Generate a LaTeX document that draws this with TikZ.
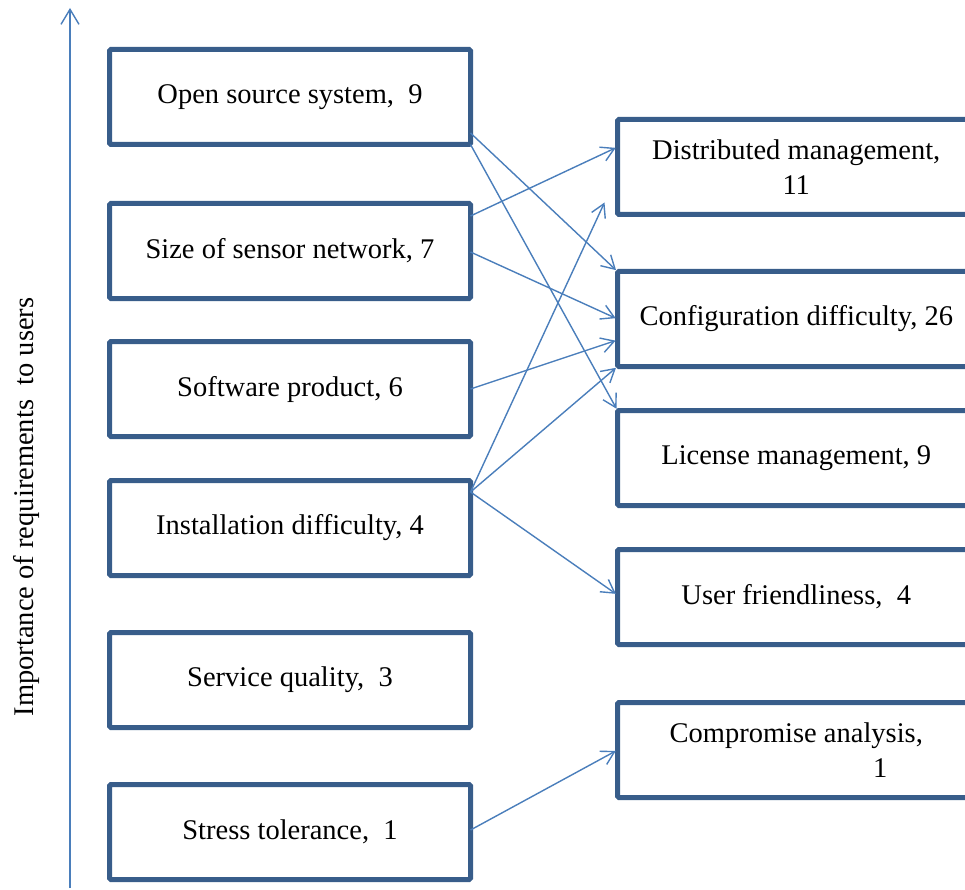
\documentclass[tikz,border=0pt]{standalone}
\usepackage{fontspec}
\setmainfont{Liberation Serif}
\usetikzlibrary{arrows.meta}
\definecolor{boxblue}{HTML}{385D8A}
\definecolor{arrowblue}{HTML}{4A7EBB}
\begin{document}
\begin{tikzpicture}[x=1pt,y=-1pt,
  reqbox/.style={draw=boxblue, line width=5pt, rounded corners=1.5pt,
    minimum width=361pt, minimum height=95pt, outer sep=0pt, inner sep=0pt,
    align=center, font=\fontsize{28.5}{35}\selectfont},
  rbox/.style={reqbox, minimum width=357.5pt},
  link/.style={draw=arrowblue, line width=1.4pt,
    -{Straight Barb[length=13pt,width=15pt,line width=1.4pt]}, shorten >=2pt},
  axis/.style={draw=arrowblue, line width=1.4pt,
    -{Straight Barb[length=15pt,width=18pt,line width=1.4pt]}}
]
\useasboundingbox (0,0) rectangle (965,890);

% axis and label
\coordinate (axb) at (70,888);
\coordinate (axt) at (70,8);
\draw[axis] (axb) -- (axt);
\node[rotate=90, font=\fontsize{28.5}{35}\selectfont] (lab) at (26,507)
  {Importance of requirements\ \ to users};

% left boxes
\node[reqbox] (L1) at (290,97)  {Open source system,\ \ 9};
\node[reqbox] (L2) at (290,251) {Size of sensor network, 7};
\node[reqbox] (L3) at (290,389) {Software product, 6};
\node[reqbox] (L4) at (290,528) {Installation difficulty, 4};
\node[reqbox] (L5) at (290,680) {Service quality,\ \ 3};
\node[reqbox] (L6) at (290,832) {Stress tolerance,\ \ 1};

% right boxes
\node[rbox] (R1) at (796.25,167) {Distributed management,\\11};
\node[rbox] (R2) at (796.25,319) {Configuration difficulty, 26};
\node[rbox] (R3) at (796.25,458) {License management, 9};
\node[rbox] (R4) at (796.25,597) {User friendliness,\ \ 4};
\node[rbox] (R5) at (796.25,750) {Compromise analysis,\\\hspace*{168pt}1};

% connectors
\coordinate (free) at ([xshift=-13pt,yshift=12pt]R1.south west);
\draw[link] ([yshift=-36pt]L1.east) -- (R2.north west);
\draw[link] (L1.south east) -- (R3.north west);
\draw[link] ([yshift=35pt]L2.east) -- ([yshift=20pt]R1.west);
\draw[link] ([yshift=-1pt]L2.east) -- (R2.west);
\draw[link] (L3.east) -- ([yshift=-21pt]R2.west);
\draw[link, shorten >=0pt] ([yshift=36pt]L4.east) -- (free);
\draw[link] ([yshift=36pt]L4.east) -- (R2.south west);
\draw[link] ([yshift=36pt]L4.east) -- ([yshift=2pt]R4.west);
\draw[link] ([yshift=2pt]L6.east) -- (R5.west);
\end{tikzpicture}
\end{document}
